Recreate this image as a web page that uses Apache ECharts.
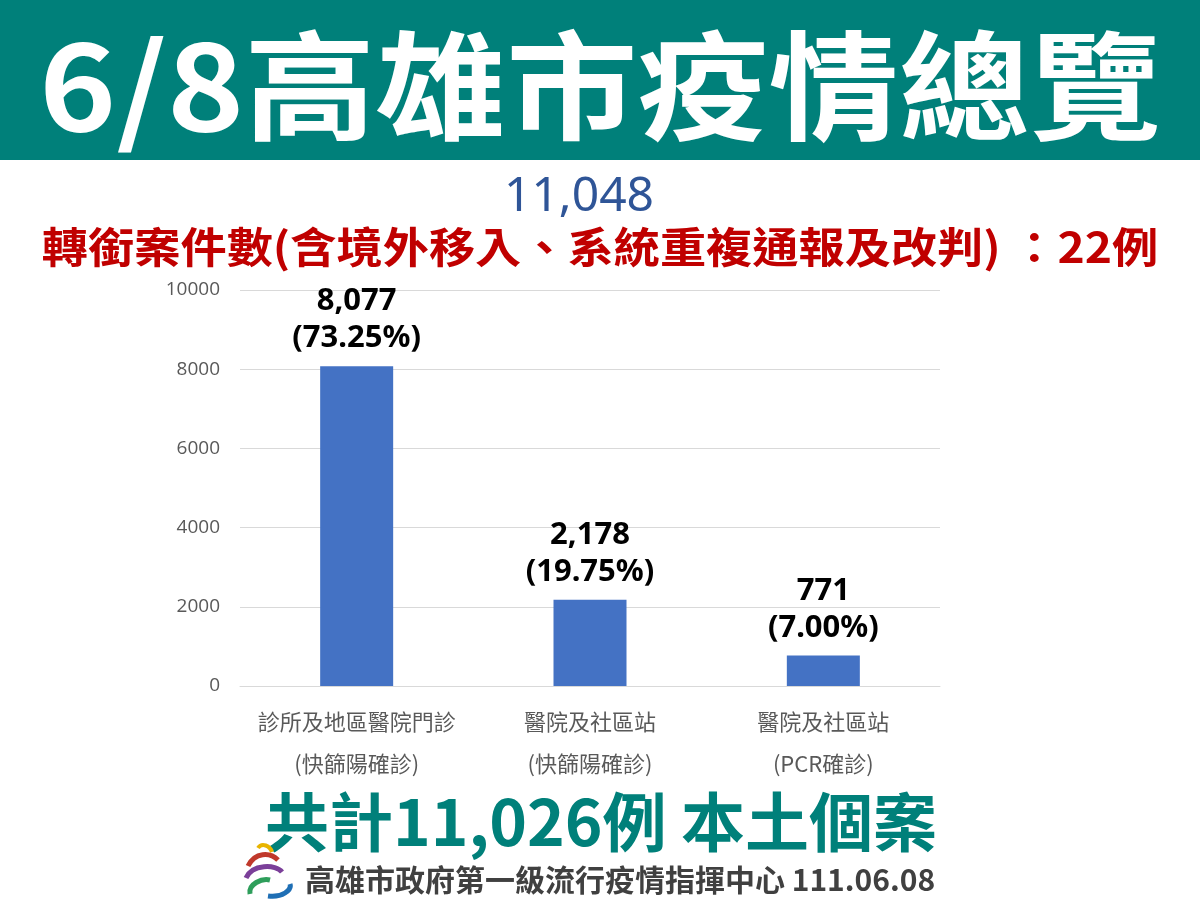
<!DOCTYPE html>
<html><head><meta charset="utf-8">
<script src="https://cdn.jsdelivr.net/npm/echarts@6/dist/echarts.min.js"></script>
<style>html,body{margin:0;padding:0;background:#fff}#c{width:1200px;height:900px}</style>
</head><body><div id="c"></div>
<script>
const categories = ['診所及地區醫院門診\n(快篩陽確診)', '醫院及社區站\n(快篩陽確診)', '醫院及社區站\n(PCR確診)'];
const values = [8077, 2178, 771];
const percents = ['73.25%', '19.75%', '7.00%'];
const yTicks = [0, 2000, 4000, 6000, 8000, 10000];
const titleText = '6/8高雄市疫情總覽';
const totalText = '11,048';
const transferText = '轉銜案件數(含境外移入、系統重複通報及改判) ：22例';
const localText = '共計11,026例 本土個案';
const footerText = '高雄市政府第一級流行疫情指揮中心 111.06.08';

const FONT = '"Noto Sans CJK TC", "Noto Sans", sans-serif';
const chart = echarts.init(document.getElementById('c'), null, {renderer: 'canvas'});
chart.setOption({
  backgroundColor: '#fff',
  animation: false,
  grid: {left: 240, right: 260, top: 290, bottom: 214},
  xAxis: {
    type: 'category', data: categories,
    axisLine: {lineStyle: {color: '#D9D9D9'}}, axisTick: {show: false},
    axisLabel: {interval: 0, color: '#595959', fontSize: 22, lineHeight: 42, margin: 15, fontFamily: FONT}
  },
  yAxis: {
    type: 'value', min: yTicks[0], max: yTicks[yTicks.length - 1], interval: 2000,
    axisLine: {show: false}, axisTick: {show: false},
    splitLine: {lineStyle: {color: '#D9D9D9'}},
    axisLabel: {formatter: v => String(v), color: '#595959', fontSize: 19, margin: 20, fontFamily: 'Open Sans, sans-serif'}
  },
  series: [{
    type: 'bar', data: values, barWidth: 73,
    itemStyle: {color: '#4472C4'},
    label: {
      show: true, position: 'top', distance: 9,
      formatter: p => p.value.toLocaleString('en-US') + '\n(' + percents[p.dataIndex] + ')',
      color: '#000', fontSize: 31, fontWeight: 'bold', lineHeight: 37, fontFamily: '"Noto Sans", sans-serif'
    }
  }],
  graphic: [
    {type: 'rect', shape: {x: 0, y: 0, width: 1200, height: 160}, style: {fill: '#00807A'}},
    {type: 'text', x: 600, y: 86, scaleX: 1.11, style: {text: titleText, fill: '#fff', font: 'bold 118px ' + FONT, textAlign: 'center', textVerticalAlign: 'middle'}},
    {type: 'text', x: 579, y: 197, style: {text: totalText, fill: '#2F5597', font: '48px "Noto Sans", sans-serif', textAlign: 'center', textVerticalAlign: 'middle'}},
    {type: 'text', x: 600, y: 247, scaleX: 1.1, style: {text: transferText, fill: '#C00000', font: 'bold 42px ' + FONT, textAlign: 'center', textVerticalAlign: 'middle'}},
    {type: 'text', x: 601, y: 822, style: {text: localText, fill: '#00807A', font: 'bold 64px ' + FONT, textAlign: 'center', textVerticalAlign: 'middle'}},
    {type: 'text', x: 620, y: 880, style: {text: footerText, fill: '#404040', font: 'bold 30px ' + FONT, textAlign: 'center', textVerticalAlign: 'middle'}},
    {type: 'bezierCurve', shape: {x1: 258, y1: 848, x2: 272, y2: 852, cpx1: 262, cpy1: 842, cpx2: 270, cpy2: 846}, style: {stroke: '#E8B400', lineWidth: 4, fill: null}},
    {type: 'bezierCurve', shape: {x1: 248, y1: 866, x2: 278, y2: 860, cpx1: 255, cpy1: 852, cpx2: 270, cpy2: 852}, style: {stroke: '#C0392B', lineWidth: 5, fill: null}},
    {type: 'bezierCurve', shape: {x1: 246, y1: 878, x2: 282, y2: 872, cpx1: 252, cpy1: 864, cpx2: 276, cpy2: 864}, style: {stroke: '#7B3F99', lineWidth: 5, fill: null}},
    {type: 'bezierCurve', shape: {x1: 250, y1: 894, x2: 270, y2: 880, cpx1: 248, cpy1: 884, cpx2: 262, cpy2: 878}, style: {stroke: '#2E9E5B', lineWidth: 5, fill: null}},
    {type: 'bezierCurve', shape: {x1: 268, y1: 896, x2: 290, y2: 884, cpx1: 282, cpy1: 898, cpx2: 292, cpy2: 890}, style: {stroke: '#1F6FB5', lineWidth: 5, fill: null}}
  ]
});
</script></body></html>
